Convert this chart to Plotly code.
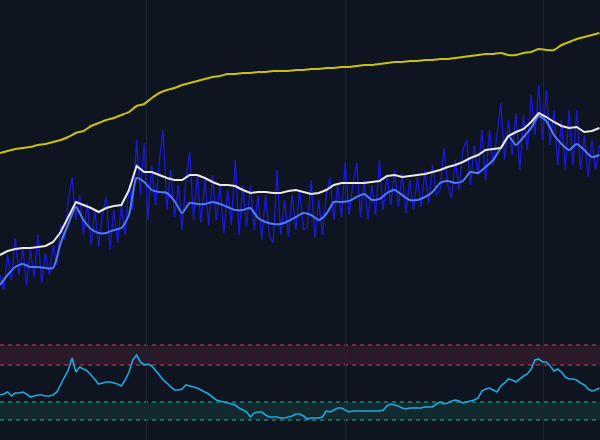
import pandas as pd
import plotly.graph_objects as go
from plotly.subplots import make_subplots

# ---------------- data ----------------
START = "2019-04-05"
END = "2022-04-16"

# bi-weekly series (top panel)
trend_yellow = [182,184,186,187,188,190,191,193,195,198,
                202,204,209,212,215,217,220,223,229,231,
                237,242,245,247,250,252,254,256,258,259,
                261,261,262,262,263,263,264,264,264,265,
                265,266,266,267,267,268,268,269,270,270,
                271,272,273,273,274,274,275,275,276,276,
                277,278,279,280,281,281,282,280,280,282,
                283,286,285,285,290,293,296,298,300,302]

upper_white = [80,84,86,87,87,88,89,93,103,118,
               133,130,127,123,127,129,130,145,169,163,
               163,160,157,155,155,160,160,157,153,150,
               150,149,145,142,143,143,142,142,144,145,
               143,141,142,145,150,152,152,152,152,153,
               154,159,160,158,159,160,161,163,165,168,
               170,173,177,180,185,186,187,199,203,206,
               213,222,218,213,209,207,208,203,204,207]

smooth_blue = [50,60,68,71,68,68,67,67,92,111,
               128,115,106,102,102,105,107,120,157,153,
               145,143,142,134,122,132,131,131,133,131,
               128,125,125,127,117,113,111,111,114,118,
               122,120,115,121,133,133,134,138,141,135,
               136,142,145,140,135,135,138,143,152,154,
               152,154,163,162,168,175,187,199,190,198,
               207,219,214,200,191,185,191,185,178,180]

# weekly series
raw_blue = [60,45,80,55,97,60,88,50,85,58,
            100,52,82,60,90,70,110,95,135,158,
            115,140,100,132,90,125,88,120,138,85,
            125,92,130,100,150,125,195,140,192,115,
            170,130,175,205,125,165,118,150,105,155,
            183,115,160,112,155,110,160,115,150,102,
            145,110,175,100,150,108,150,105,140,95,
            140,100,92,165,100,135,98,140,105,145,
            105,108,155,97,135,100,140,157,115,150,
            118,173,120,150,172,118,155,115,150,120,
            175,125,160,130,165,128,162,122,155,125,
            158,128,165,132,170,140,145,187,150,137,
            175,145,185,195,150,190,160,205,155,205,
            170,200,232,175,215,180,222,165,220,185,
            240,200,250,195,245,190,225,170,215,165,
            225,170,225,165,200,158,195,165,190]

oscillator = [45,46,48,44,47,47,48,46,43,44,
              45,45,44,44,45,48,56,63,70,82,
              68,73,71,69,65,60,56,57,58,58,
              57,56,54,60,68,80,85,78,75,76,
              74,70,65,60,57,53,50,50,51,55,
              54,53,52,50,48,46,43,40,39,38,
              37,36,35,32,30,28,23,27,28,28,
              25,23,23,23,22,22,23,24,26,26,
              24,21,22,22,22,23,29,28,30,32,
              32,30,28,29,29,29,29,29,29,29,
              29,30,34,36,35,34,32,31,32,32,
              32,32,33,33,33,36,38,36,37,39,
              40,39,37,38,39,40,42,49,51,52,
              50,48,54,57,61,60,58,61,64,66,
              71,80,81,78,78,74,69,71,68,63,
              61,61,60,57,55,51,49,50,52]

OVERBOUGHT = [75, 95]
OVERSOLD = [20, 38]

dates_2w = pd.date_range(START, periods=len(upper_white), freq="14D")
dates_1w = pd.date_range(START, periods=len(raw_blue), freq="7D")

# ---------------- figure ----------------
BG = "#0f1520"
GRID = "#1d2433"

fig = make_subplots(rows=2, cols=1, shared_xaxes=True, vertical_spacing=0,
                    row_heights=[335, 105])

fig.add_trace(go.Scatter(x=dates_1w, y=raw_blue, mode="lines",
                         line=dict(color="rgba(25,25,240,0.9)", width=1.3)), row=1, col=1)
fig.add_trace(go.Scatter(x=dates_2w, y=smooth_blue, mode="lines", line_shape="spline",
                         line=dict(color="rgba(85,125,255,0.95)", width=2, smoothing=0.6)), row=1, col=1)
fig.add_trace(go.Scatter(x=dates_2w, y=upper_white, mode="lines",
                         line=dict(color="#e8e8e8", width=2)), row=1, col=1)
fig.add_trace(go.Scatter(x=dates_2w, y=trend_yellow, mode="lines", line_shape="spline",
                         line=dict(color="#c9c010", width=2, smoothing=0.6)), row=1, col=1)

fig.add_trace(go.Scatter(x=dates_1w, y=oscillator, mode="lines",
                         line=dict(color="#1fa8dc", width=1.6)), row=2, col=1)

# bands
for (lo, hi), fill, lc in [(OVERBOUGHT, "#2a1a2a", "#c23d5c"),
                           (OVERSOLD, "#11292f", "#1fb596")]:
    fig.add_shape(type="rect", xref="x2 domain", x0=0, x1=1, yref="y2", y0=lo, y1=hi,
                  fillcolor=fill, line_width=0, layer="below")
    for yv in (lo, hi):
        fig.add_shape(type="line", xref="x2 domain", x0=0, x1=1, yref="y2", y0=yv, y1=yv,
                      line=dict(color=lc, width=1, dash="4px,4px"), layer="below")

fig.update_layout(
    width=600, height=440, margin=dict(l=0, r=0, t=0, b=0),
    paper_bgcolor=BG, plot_bgcolor=BG, showlegend=False,
)
for ax in ("xaxis", "xaxis2"):
    fig.layout[ax].update(range=[START, END], showticklabels=False, showgrid=True,
                          gridcolor=GRID, gridwidth=1, zeroline=False, showline=False,
                          tick0="2020-01-01", dtick="M12", ticks="")
fig.update_yaxes(showticklabels=False, showgrid=False, zeroline=False, showline=False)
fig.layout.yaxis.update(range=[0, 335])
fig.layout.yaxis2.update(range=[0, 105])

fig.write_html("out.html", config={"displayModeBar": False},
               post_script="document.body.style.margin='0';document.body.style.overflow='hidden';"
                           "document.body.style.background='#0f1520';")
